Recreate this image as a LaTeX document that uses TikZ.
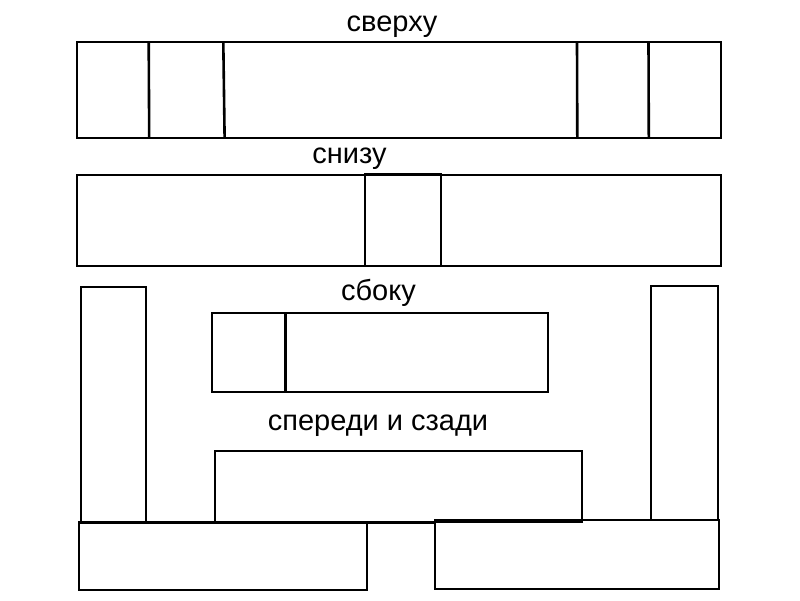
\documentclass[tikz,border=0pt]{standalone}
\usepackage{fontspec}
\setmainfont{Liberation Sans}
\begin{document}
\begin{tikzpicture}[x=1pt,y=-1pt,
  part/.style={draw=black,line width=2pt},
  heavy/.style={draw=black,line width=2.6pt},
  divider/.style={draw=black,line width=3.6pt},
  caption/.style={anchor=base,inner sep=0pt,font=\fontsize{29}{34}\selectfont}]
\useasboundingbox[fill=white] (0,0) rectangle (800,600);
% top view
\draw[part] (77,42) rectangle (721,137.5);
\draw[heavy] (148.7,42) -- (149.2,137.5);
\draw[heavy] (223.3,42) -- (224.6,137.5);
\draw[heavy] (577,42) -- (577.3,137.5);
\draw[heavy] (648.5,42) -- (648.8,137.5);
\node[caption] (top) at (392,31) {сверху};
% bottom view
\draw[part] (77,175) rectangle (721,265.5);
\draw[part] (365,174) rectangle (441,265.5);
\node[caption] (bottom) at (349.5,163) {снизу};
% side view
\draw[part] (212,313) rectangle (548,391.5);
\draw[divider] (285.5,313) -- (285.5,391.5);
\node[caption] (side) at (378.5,300) {сбоку};
% front and back
\draw[part] (81.3,287) rectangle (146,522.5);
\draw[part] (651,285.5) rectangle (718,520);
\draw[part] (215,451) rectangle (582,522.2);
\draw[part] (146,522.5) -- (435,522.5);
\draw[part] (79,522) rectangle (367,590);
\draw[part] (435,520) rectangle (719,588.7);
\node[caption] (front) at (378,430) {спереди и сзади};
\end{tikzpicture}
\end{document}
